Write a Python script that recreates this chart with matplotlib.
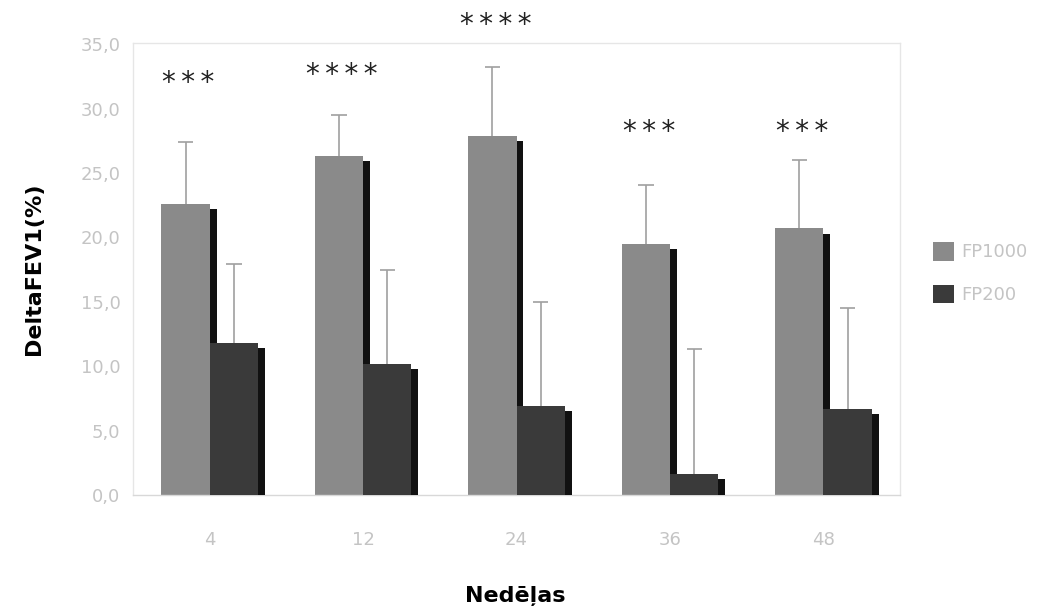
import matplotlib.pyplot as plt
import numpy as np

weeks = ["4", "12", "24", "36", "48"]
fp1000 = [22.6, 26.3, 27.9, 19.5, 20.7]
fp1000_err = [4.8, 3.2, 5.3, 4.6, 5.3]
fp200 = [11.8, 10.2, 6.9, 1.6, 6.7]
fp200_err = [6.1, 7.3, 8.1, 9.7, 7.8]
stars = ["***", "****", "****", "***", "***"]
star_y = [32.0, 32.6, 36.5, 28.2, 28.2]

c_hi = "#8a8a8a"
c_lo = "#3a3a3a"
c_shadow = "#111111"
c_err = "#a0a0a0"
c_tick = "#c4c4c4"

fig = plt.figure(figsize=(10.51, 6.14), dpi=100)
ax = fig.add_axes([0.1265, 0.194, 0.73, 0.736])

x = np.arange(len(weeks))
w = 0.315
sw = 0.045
drop = 0.4
hi = np.array(fp1000)
lo = np.array(fp200)

# pseudo-3D: dark strip on the right of each bar, set a bit lower
ax.bar(x - w + sw, hi - drop, width=w, align="edge", color=c_shadow, zorder=1)
ax.bar(x - w, hi, width=w, align="edge", color=c_hi, zorder=2, label="FP1000")
ax.bar(x + sw, lo - drop, width=w, align="edge", color=c_shadow, zorder=3)
ax.bar(x, lo, width=w, align="edge", color=c_lo, zorder=4, label="FP200")

# upper-only error bars
cap = 0.05
for xc, v, e in [(x - w / 2, hi, fp1000_err), (x + w / 2, lo, fp200_err)]:
    top = v + np.array(e)
    ax.vlines(xc, v, top, color=c_err, lw=1.2, zorder=5)
    ax.hlines(top, xc - cap, xc + cap, color=c_err, lw=1.2, zorder=5)

for xi, s, sy in zip(x, stars, star_y):
    ax.text(xi - w / 2 + 0.02, sy, "\u2009".join(s), ha="center", va="center",
            fontsize=20, color="#222222", clip_on=False)

ax.set_xlim(-0.5, 4.5)
ax.set_ylim(0, 35.1)
ax.set_yticks(np.arange(0, 36, 5))
ax.set_yticklabels([f"{v:.1f}".replace(".", ",") for v in np.arange(0, 36, 5)])
ax.set_xticks(x)
ax.set_xticklabels(weeks)
ax.tick_params(axis="both", length=0, labelcolor=c_tick, labelsize=13)
ax.tick_params(axis="x", pad=26)
ax.tick_params(axis="y", pad=9)

for sp in ax.spines.values():
    sp.set_color("#e6e6e6")
    sp.set_linewidth(1)
ax.spines["bottom"].set_color("#d8d8d8")

ax.set_ylabel("DeltaFEV1(%)", fontsize=16, fontweight="bold", labelpad=26)
fig.text(0.49, 0.02, "Nedēļas", ha="center", fontsize=16, fontweight="bold")

leg = ax.legend(loc="center left", bbox_to_anchor=(0.872, 0.555),
                bbox_transform=fig.transFigure, frameon=False, fontsize=13,
                handlelength=1.2, handleheight=1.2, labelspacing=1.3,
                handletextpad=0.4)
for t in leg.get_texts():
    t.set_color(c_tick)

fig.savefig("out.png", dpi=100)
